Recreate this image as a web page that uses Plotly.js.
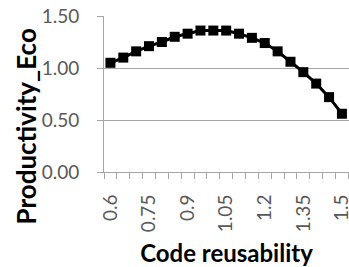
<!DOCTYPE html>
<html><head><meta charset="utf-8">
<script src="https://cdn.plot.ly/plotly-3.0.1.min.js"></script>
<style>html,body{margin:0;padding:0;background:#fff}#c{width:349px;height:267px}</style>
</head><body><div id="c"></div>
<script>
const codeReusability = [0.6,0.65,0.7,0.75,0.8,0.85,0.9,0.95,1.0,1.05,1.1,1.15,1.2,1.25,1.3,1.35,1.4,1.45,1.5];
const productivityEco = [1.05,1.10,1.16,1.21,1.25,1.30,1.33,1.36,1.36,1.36,1.33,1.29,1.24,1.16,1.06,0.96,0.85,0.72,0.56];
const xTickVals = [0.6,0.75,0.9,1.05,1.2,1.35,1.5];
const xTickText = ["0.6","0.75","0.9","1.05","1.2","1.35","1.5"];
const yTickVals = [0,0.5,1.0,1.5];
const yTickText = ["0.00","0.50","1.00","1.50"];
const xTitle = 'Code reusability';
const yTitle = 'Productivity_Eco';

const font = "Lato, 'Open Sans', sans-serif";
Plotly.newPlot('c', [{
  x: codeReusability, y: productivityEco, type: 'scatter', mode: 'lines+markers',
  line: {color: '#000', width: 3},
  marker: {symbol: 'square', size: 10, color: '#000'},
  cliponaxis: false, hoverinfo: 'skip'
}], {
  width: 349, height: 267,
  margin: {l: 104, r: 0, t: 16, b: 95},
  paper_bgcolor: '#fff', plot_bgcolor: '#fff',
  showlegend: false,
  xaxis: {
    range: [0.575, 1.5275], tickvals: xTickVals, ticktext: xTickText, tickangle: -90,
    showgrid: false, zeroline: false, showline: true, linecolor: '#a6a6a6', linewidth: 1,
    ticks: '', tickfont: {family: font, size: 19, color: '#595959'},
    ticklabelstandoff: 14, ticklabeloverflow: 'allow',
    minor: {tick0: 0.575, dtick: 0.05, ticks: 'outside', ticklen: 6, tickcolor: '#a6a6a6', showgrid: false},
    title: {text: xTitle, font: {family: font, size: 24, color: '#000', weight: 'bold'}, standoff: 14}
  },
  yaxis: {
    range: [0, 1.5], tickvals: yTickVals, ticktext: yTickText,
    showgrid: true, gridcolor: '#a6a6a6', gridwidth: 1, zeroline: false,
    showline: true, linecolor: '#a6a6a6', linewidth: 1,
    ticks: 'outside', ticklen: 6, tickcolor: '#a6a6a6',
    tickfont: {family: font, size: 19, color: '#595959'}, ticklabelstandoff: 14
  },
  annotations: [{
    text: yTitle, xref: 'paper', yref: 'paper', x: 0, y: 0.2917,
    xanchor: 'center', yanchor: 'middle', xshift: -78, textangle: -90, showarrow: false,
    font: {family: font, size: 26, color: '#000', weight: 'bold'}
  }]
}, {displayModeBar: false, staticPlot: true});
</script></body></html>
